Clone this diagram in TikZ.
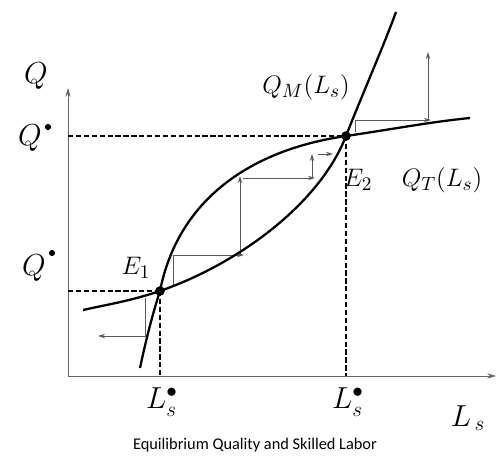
\documentclass[tikz,border=0pt]{standalone}
\usepackage{fontspec}
\newfontfamily\capfont{Carlito}
\usetikzlibrary{arrows.meta, positioning}

\begin{document}
\begin{tikzpicture}[x=0.02cm, y=-0.02cm,
  axis/.style={line width=0.5pt, gray!80!black, -{Stealth[length=5pt, width=3pt]}},
  curve/.style={line width=1.3pt, black},
  guide/.style={dashed, line width=1pt, dash pattern=on 3pt off 1.5pt},
  cob/.style={line width=0.5pt, gray!70!black, -{Stealth[length=4pt, width=2.5pt]}},
  dot/.style={circle, fill=black, inner sep=0pt, minimum size=5.5pt},
  lab/.style={font=\fontsize{17}{20}\selectfont, inner sep=0pt},
  elab/.style={font=\fontsize{15}{18}\selectfont, inner sep=0pt}
]
\useasboundingbox (0,0) rectangle (498,460);
% === Axes ===
\coordinate (O) at (68,376);
\coordinate (ytop) at (68,88);
\coordinate (xend) at (496,376);
\draw[axis] (O) -- (ytop);
\draw[axis] (O) -- (xend);
% === Equilibria ===
\coordinate (E1) at (160,291);
\coordinate (E2) at (346,136);
% === Dashed guides ===
\draw[guide] (O |- E1) -- (E1);
\draw[guide] (O |- E2) -- (E2);
\draw[guide] (E1) -- (E1 |- O);
\draw[guide] (E2) -- (E2 |- O);
% === Cobweb steps ===
\draw[cob] (145,298) -- (145,336) -- (98,336);
\draw[cob] (173,287) -- (173,255) -- (244,255);
\draw[cob] (240,255) -- (240,176);
\draw[cob] (243,178) -- (315,178);
\draw[cob] (312,178) -- (312,154);
\draw[cob] (318,154) -- (333,154);
\draw[line width=0.5pt, gray!70!black] (355,132) -- (355,120);
\draw[cob] (355,120) -- (431,120);
\draw[cob] (428,120) -- (428,52);
% === Curves ===
% Q_T: steep below E1, concave between E1 and E2, flat beyond
\draw[curve] (140,368) .. controls (146,340) and (152,316) .. (E1)
  .. controls (178,200) and (250,150) .. (E2)
  .. controls (400,128) and (430,122) .. (470,118);
% Q_M: flat below E1, convex between E1 and E2, steep beyond
\draw[curve] (83,310) .. controls (110,304) and (130,301) .. (E1)
  .. controls (240,263) and (320,203) .. (E2)
  .. controls (360,100) and (384,45) .. (396,12);
\node[dot] (e1dot) at (E1) {};
\node[dot] (e2dot) at (E2) {};
% === Labels ===
\node[lab] (qax) at (36,76) {$Q$};
\node[lab] (qhi) at (30,138) {$Q$};
\node[dot, minimum size=3.5pt] (qhib) at (48,127) {};
\node[lab] (qlo) at (34,268) {$Q$};
\node[dot, minimum size=3.5pt] (qlob) at (52,253) {};
\node[elab] (e1lab) at (136,268) {$E_1$};
\node[elab] (e2lab) at (358,180) {$E_2$};
\node[lab, font=\fontsize{15}{18}\selectfont] (qmlab) at (306,87) {$Q_M(L_s)$};
\node[lab, font=\fontsize{15}{18}\selectfont] (qtlab) at (442,180) {$Q_T(L_s)$};
\node[lab] (l1lab) at (162,402) {$L_s^{\bullet}$};
\node[lab] (l2lab) at (348,402) {$L_s^{\bullet}$};
\node[lab] (lslab) at (468,418) {$L_{\,s}$};
\node[font=\capfont\fontsize{9.3}{11}\selectfont, inner sep=0pt] (cap) at (255,445) {Equilibrium Quality and Skilled Labor};
\end{tikzpicture}
\end{document}
